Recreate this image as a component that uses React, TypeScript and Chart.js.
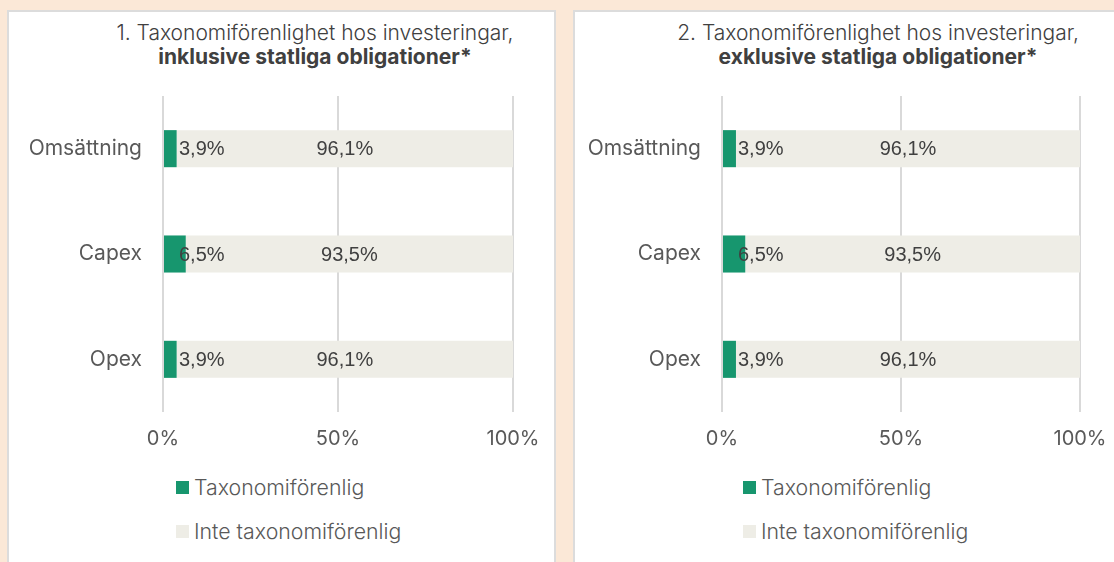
import React, { useEffect, useRef } from "react";
import { Chart, registerables } from "chart.js";

Chart.register(...registerables);

// ---- data ----
const categories = ["Omsättning", "Capex", "Opex"];
const seriesNames = ["Taxonomiförenlig", "Inte taxonomiförenlig"];
const alignedIncl = [3.9, 6.5, 3.9];
const notAlignedIncl = [96.1, 93.5, 96.1];
const alignedExcl = [3.9, 6.5, 3.9];
const notAlignedExcl = [96.1, 93.5, 96.1];
const xTickValues = [0, 50, 100];
const titleInclLine1 = "1. Taxonomiförenlighet hos investeringar,";
const titleInclLine2 = "inklusive statliga obligationer*";
const titleExclLine1 = "2. Taxonomiförenlighet hos investeringar,";
const titleExclLine2 = "exklusive statliga obligationer*";

// ---- styles ----
const GREEN = "#17966e";
const GREY = "#eeede6";
const PEACH = "#fbe8d7";
const AXIS_TEXT = "#595959";
const LABEL_TEXT = "#404040";
const GRID = "#d9d9d9";
const UI_FONT = "Inter, 'DejaVu Sans', sans-serif";
const LABEL_FONT = "'Liberation Sans', Arial, sans-serif";

const fmt = (v: number) => v.toFixed(1).replace(".", ",") + "%";

const valueLabels = {
  id: "valueLabels",
  afterDatasetsDraw(chart: any) {
    const ctx = chart.ctx;
    ctx.save();
    ctx.font = `20px ${LABEL_FONT}`;
    ctx.fillStyle = LABEL_TEXT;
    ctx.textBaseline = "middle";
    chart.data.datasets.forEach((ds: any, di: number) => {
      const meta = chart.getDatasetMeta(di);
      meta.data.forEach((el: any, i: number) => {
        const v = ds.data[i];
        const { x, y, base } = el.getProps(["x", "y", "base"], true);
        if (di === 0) {
          ctx.textAlign = "left";
          ctx.fillText(fmt(v), base + 15, y + 1);
        } else {
          ctx.textAlign = "center";
          ctx.fillText(fmt(v), (x + base) / 2, y + 1);
        }
      });
    });
    ctx.restore();
  },
};

type PanelProps = {
  aligned: number[];
  notAligned: number[];
  yAxisWidth: number;
  padRight: number;
};

function BarChart({ aligned, notAligned, yAxisWidth, padRight }: PanelProps) {
  const ref = useRef<HTMLCanvasElement | null>(null);
  useEffect(() => {
    if (!ref.current) return;
    const chart = new Chart(ref.current, {
      type: "bar",
      data: {
        labels: categories,
        datasets: [
          {
            label: seriesNames[0],
            data: aligned,
            backgroundColor: GREEN,
            borderWidth: 0,
            categoryPercentage: 1,
            barPercentage: 0.352,
          },
          {
            label: seriesNames[1],
            data: notAligned,
            backgroundColor: GREY,
            borderWidth: 0,
            categoryPercentage: 1,
            barPercentage: 0.352,
          },
        ],
      },
      options: {
        indexAxis: "y",
        animation: false,
        responsive: true,
        maintainAspectRatio: false,
        layout: { padding: { top: 16, right: padRight, bottom: 0, left: 0 } },
        plugins: {
          legend: { display: false },
          title: { display: false },
          tooltip: { enabled: false },
        },
        scales: {
          x: {
            type: "linear",
            stacked: true,
            min: 0,
            max: 100,
            afterBuildTicks: (scale: any) => {
              scale.ticks = xTickValues.map((v) => ({ value: v }));
            },
            ticks: {
              callback: (v: any) => v + "%",
              color: AXIS_TEXT,
              font: { family: UI_FONT, size: 20 },
              padding: 15,
              maxRotation: 0,
            },
            grid: { color: GRID, lineWidth: 2, drawTicks: false },
            border: { display: false },
            afterFit: (scale: any) => {
              scale.height = 50;
              scale.paddingLeft = 0;
              scale.paddingRight = 0;
            },
          },
          y: {
            stacked: true,
            ticks: {
              color: AXIS_TEXT,
              font: { family: UI_FONT, size: 21 },
              padding: 21,
            },
            grid: { display: false, drawTicks: false },
            border: { display: false },
            afterFit: (scale: any) => {
              scale.width = yAxisWidth;
              scale.paddingTop = 0;
              scale.paddingBottom = 0;
            },
          },
        },
      },
      plugins: [valueLabels],
    } as any);
    return () => chart.destroy();
  }, []);
  return <canvas ref={ref} />;
}

function Legend({ left }: { left: number }) {
  const row = (color: string, text: string, top: number) => (
    <div
      style={{
        position: "absolute",
        left,
        top,
        display: "flex",
        alignItems: "center",
        height: 26,
        fontFamily: UI_FONT,
        fontSize: 21.3,
        fontWeight: 300,
        color: AXIS_TEXT,
        whiteSpace: "nowrap",
      }}
    >
      <span style={{ width: 13, height: 13, background: color, marginRight: 5, display: "inline-block" }} />
      <span>{text}</span>
    </div>
  );
  return (
    <>
      {row(GREEN, seriesNames[0], 474)}
      {row(GREY, seriesNames[1], 518)}
    </>
  );
}

function Title({ center, l1, l2 }: { center: number; l1: string; l2: string }) {
  return (
    <div
      style={{
        position: "absolute",
        left: center - 300,
        width: 600,
        top: 21,
        textAlign: "center",
        fontFamily: UI_FONT,
        fontSize: 21,
        lineHeight: "24px",
        color: "#404040",
      }}
    >
      <div style={{ fontWeight: 300 }}>{l1}</div>
      <div style={{ fontWeight: 700 }}>{l2}</div>
    </div>
  );
}

export default function App() {
  return (
    <div
      style={{
        position: "fixed",
        left: 0,
        top: 0,
        width: 1114,
        height: 562,
        overflow: "hidden",
        background: PEACH,
      }}
    >
      <div
        style={{
          position: "absolute",
          left: 7,
          top: 10,
          width: 549,
          height: 600,
          boxSizing: "border-box",
          border: "2px solid #dcdcdc",
          background: "#ffffff",
        }}
      />
      <div
        style={{
          position: "absolute",
          left: 573,
          top: 10,
          width: 600,
          height: 600,
          boxSizing: "border-box",
          border: "2px solid #dcdcdc",
          background: "#ffffff",
        }}
      />
      <Title center={315} l1={titleInclLine1} l2={titleInclLine2} />
      <Title center={878} l1={titleExclLine1} l2={titleExclLine2} />
      <div style={{ position: "absolute", left: 9, top: 80, width: 545, height: 382 }}>
        <BarChart aligned={alignedIncl} notAligned={notAlignedIncl} yAxisWidth={154} padRight={41} />
      </div>
      <div style={{ position: "absolute", left: 575, top: 80, width: 539, height: 382 }}>
        <BarChart aligned={alignedExcl} notAligned={notAlignedExcl} yAxisWidth={147} padRight={34} />
      </div>
      <Legend left={176} />
      <Legend left={743} />
    </div>
  );
}
